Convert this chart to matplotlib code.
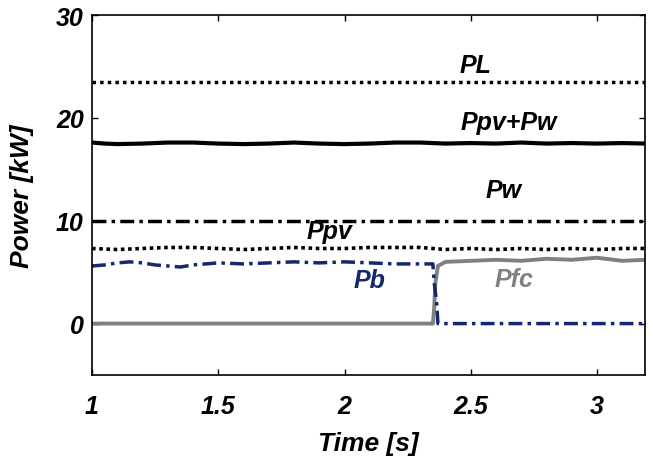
import matplotlib
matplotlib.use("Agg")
import matplotlib.pyplot as plt

# ---- data ----
t_const = [1.0, 3.19]
PL = [23.5, 23.5]
Pw = [10.0, 10.0]

t_sum = [1.0, 1.05, 1.1, 1.2, 1.25, 1.3, 1.4, 1.5, 1.6, 1.7, 1.8, 1.9, 2.0, 2.1,
         2.2, 2.3, 2.4, 2.5, 2.6, 2.7, 2.8, 2.9, 3.0, 3.1, 3.19]
Psum = [17.6, 17.5, 17.45, 17.5, 17.55, 17.6, 17.6, 17.5, 17.45, 17.5, 17.6, 17.5,
        17.45, 17.5, 17.6, 17.6, 17.5, 17.55, 17.5, 17.6, 17.5, 17.55, 17.5, 17.55, 17.5]

t_pv = [1.0, 1.1, 1.2, 1.3, 1.4, 1.5, 1.6, 1.7, 1.8, 1.9, 2.0, 2.1, 2.2, 2.3,
        2.4, 2.5, 2.6, 2.7, 2.8, 2.9, 3.0, 3.1, 3.19]
Ppv = [7.3, 7.2, 7.3, 7.4, 7.4, 7.3, 7.2, 7.3, 7.4, 7.3, 7.3, 7.4, 7.4, 7.4,
       7.2, 7.3, 7.2, 7.3, 7.2, 7.3, 7.2, 7.3, 7.3]

t_pb = [1.0, 1.05, 1.1, 1.15, 1.2, 1.25, 1.3, 1.35, 1.4, 1.5, 1.6, 1.7, 1.8,
        1.9, 2.0, 2.1, 2.2, 2.3, 2.35, 2.355, 2.365, 2.37, 3.19]
Pb = [5.6, 5.7, 5.9, 6.0, 5.9, 5.7, 5.6, 5.5, 5.7, 5.9, 5.8, 5.9, 6.0,
      5.9, 6.0, 5.9, 5.8, 5.8, 5.8, 4.0, 2.0, 0.0, 0.0]

t_fc = [1.0, 2.35, 2.355, 2.36, 2.37, 2.4, 2.5, 2.6, 2.7, 2.8, 2.9, 3.0, 3.1, 3.19]
Pfc = [0.0, 0.0, 1.5, 4.0, 5.6, 6.0, 6.1, 6.2, 6.1, 6.3, 6.2, 6.4, 6.1, 6.2]

xticks = [1, 1.5, 2, 2.5, 3]
xticklabels = ["1", "1.5", "2", "2.5", "3"]
yticks = [0, 10, 20, 30]

navy = "#14286e"
gray = "#808080"

plt.rcParams['font.family'] = ['Liberation Sans', 'DejaVu Sans']

fig = plt.figure(figsize=(6.53, 4.60), dpi=100)
ax = fig.add_axes([92/653, 1-376/460, (645-92)/653, (376-16)/460])

ax.plot(t_const, PL, color='black', lw=2.5, linestyle=(0, (1, 1.2)))
ax.plot(t_sum, Psum, color='black', lw=3.0, solid_capstyle='butt')
ax.plot(t_const, Pw, color='black', lw=2.5, linestyle=(0, (4, 1.5, 1, 1.5)))
ax.plot(t_pv, Ppv, color='black', lw=2.6, linestyle=(0, (1, 1)))
ax.plot(t_fc, Pfc, color=gray, lw=2.8)
ax.plot(t_pb, Pb, color=navy, lw=2.5, linestyle=(0, (4, 1.5, 1, 1.5)))

lab = dict(fontsize=18, fontweight='bold', fontstyle='italic', ha='center', va='center')
ax.text(2.52, 25.1, "PL", color='black', **lab)
ax.text(2.65, 19.6, "Ppv+Pw", color='black', **lab)
ax.text(2.63, 13.0, "Pw", color='black', **lab)
ax.text(1.94, 9.0, "Ppv", color='black', **lab)
ax.text(2.1, 4.2, "Pb", color=navy, **lab)
ax.text(2.67, 4.3, "Pfc", color=gray, **lab)

ax.set_xlim(1, 3.19)
ax.set_ylim(-5, 30)
ax.set_xticks(xticks)
ax.set_xticklabels(xticklabels)
ax.set_yticks(yticks)
ax.tick_params(direction='in', top=True, right=True, length=4, width=1,
               labelsize=18)
ax.tick_params(axis='x', pad=14)
ax.tick_params(axis='y', pad=6)
for lbl in ax.get_xticklabels() + ax.get_yticklabels():
    lbl.set_fontweight('bold')
    lbl.set_fontstyle('italic')
ax.set_xlabel("Time [s]", fontsize=19, fontweight='bold', fontstyle='italic', labelpad=9)
ax.set_ylabel("Power [kW]", fontsize=19, fontweight='bold', fontstyle='italic', labelpad=16)
for s in ax.spines.values():
    s.set_linewidth(1.2)

fig.savefig("out.png", dpi=100)
